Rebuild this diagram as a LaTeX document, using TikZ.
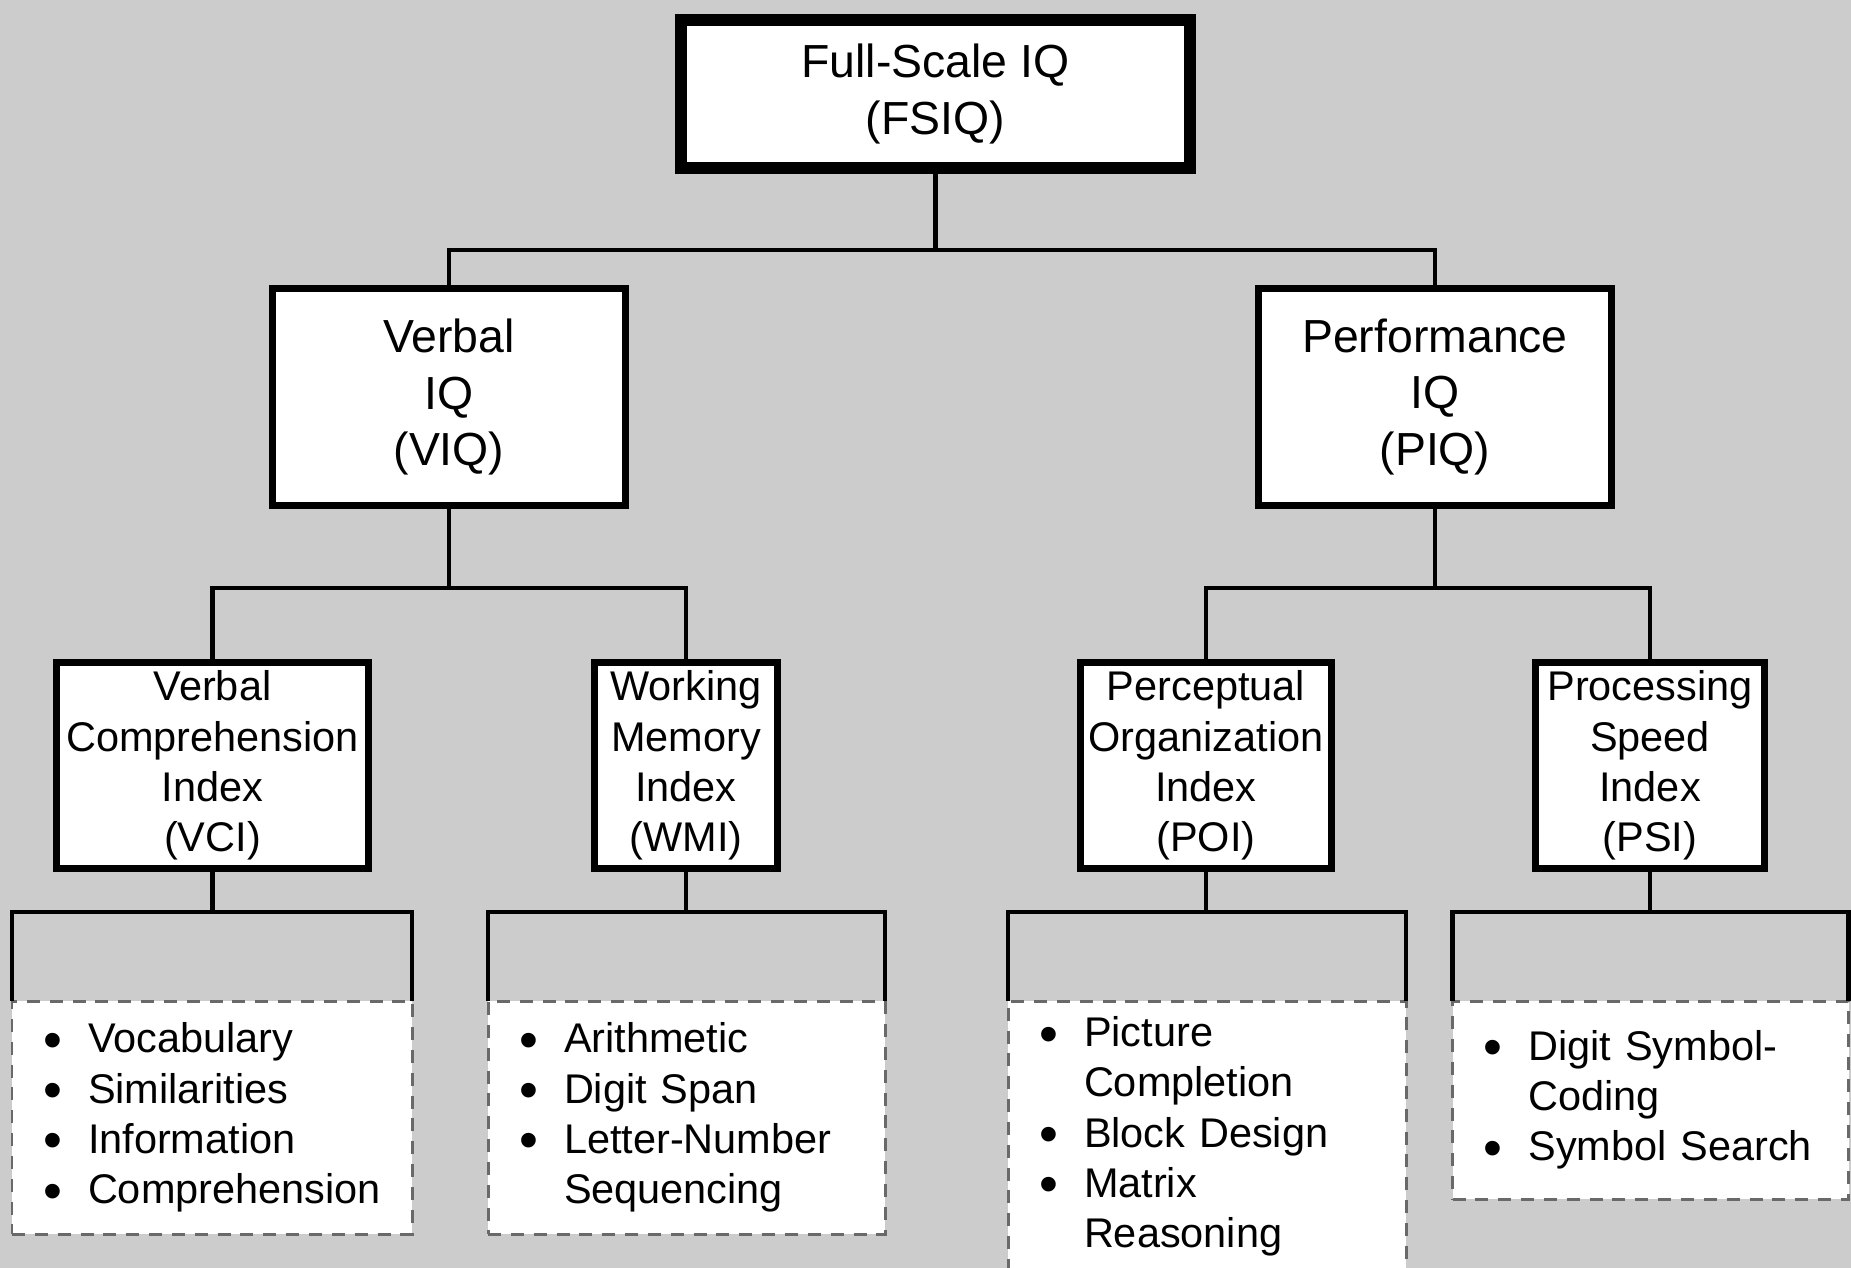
\documentclass[tikz,border=0pt]{standalone}
\usepackage{fontspec}
\usepackage{graphicx}
\setmainfont{Liberation Sans}
\definecolor{bggray}{RGB}{204,204,204}
\definecolor{dashgray}{RGB}{105,105,105}
\newcommand{\iqfont}{\fontsize{13.2}{16.1}\selectfont}
\newcommand{\idxfont}{\fontsize{11.8}{14.3}\selectfont}
\newcommand{\itm}{\makebox[0.45cm][l]{\raisebox{-0.25ex}{\scalebox{1.3}{\textbullet}}}}
\newcommand{\cnt}{\hspace*{0.45cm}}
\begin{document}
\begin{tikzpicture}[
		every node/.style={draw, rectangle, fill=white, inner sep=0pt, outer sep=0pt, align=center},
		iqbox/.style={line width=2pt, minimum width=3.53cm, minimum height=2.17cm, font=\iqfont},
		idxbox/.style={line width=2pt, minimum height=2.06cm, font=\idxfont},
		listbox/.style={draw=dashgray, dash pattern=on 3.7pt off 2.8pt, line width=0.85pt, align=left, font=\idxfont},
		link/.style={line width=1.25pt},
	]
	\fill[bggray] (0,0) rectangle (18.51,-12.68);
	\useasboundingbox (0,0) rectangle (18.51,-12.68);
	% top level
	\node[line width=3.4pt, minimum width=5.09cm, minimum height=1.48cm, font=\iqfont] (fsiq) at (9.355,-0.94) {Full-Scale IQ\\(FSIQ)};
	\node[iqbox] (viq) at (4.49,-3.97) {Verbal\\IQ\\(VIQ)};
	\node[iqbox] (piq) at (14.35,-3.97) {Performance\\IQ\\(PIQ)};
	% index scores
	\node[idxbox, minimum width=3.12cm] (vci) at (2.125,-7.655) {Verbal\\Comprehension\\Index\\(VCI)};
	\node[idxbox, minimum width=1.83cm] (wmi) at (6.86,-7.655) {Working\\Memory\\Index\\(WMI)};
	\node[idxbox, minimum width=2.51cm] (poi) at (12.06,-7.655) {Perceptual\\Organization\\Index\\(POI)};
	\node[idxbox, minimum width=2.29cm] (psi) at (16.50,-7.655) {Processing\\Speed\\Index\\(PSI)};
	% subtests
	\node[listbox, minimum width=4.00cm, text width=3.38cm, minimum height=2.33cm] (vcilist) at (2.12,-11.175)
		{\itm Vocabulary\\\itm Similarities\\\itm Information\\\itm Comprehension};
	\node[listbox, minimum width=3.97cm, text width=3.35cm, minimum height=2.33cm] (wmilist) at (6.865,-11.175)
		{\itm Arithmetic\\\itm Digit Span\\\itm Letter-Number\\\cnt Sequencing};
	\node[listbox, minimum width=3.98cm, text width=3.36cm, minimum height=2.71cm] (poilist) at (12.07,-11.365)
		{\itm Picture\\\cnt Completion\\\itm Block Design\\\itm Matrix\\\cnt Reasoning};
	\node[listbox, minimum width=3.96cm, text width=3.34cm, minimum height=1.98cm] (psilist) at (16.505,-11.00)
		{\itm Digit Symbol-\\\cnt Coding\\\itm Symbol Search};
	% connectors
	\coordinate (bus1) at (0,-2.50);
	\coordinate (bus2) at (0,-5.88);
	\coordinate (bus3) at (0,-9.12);
	\draw[link] (fsiq.south) -- (fsiq.south |- bus1);
	\draw[link] (viq.north) |- (fsiq.south |- bus1) -| (piq.north);
	\draw[link] (viq.south) -- (viq.south |- bus2);
	\draw[link] (vci.north) |- (viq.south |- bus2) -| (wmi.north);
	\draw[link] (piq.south) -- (piq.south |- bus2);
	\draw[link] (poi.north) |- (piq.south |- bus2) -| (psi.north);
	\draw[link] (vci.south) -- (vci.south |- bus3);
	\draw[link] (vcilist.north west) |- (vci.south |- bus3) -| (vcilist.north east);
	\draw[link] (wmi.south) -- (wmi.south |- bus3);
	\draw[link] (wmilist.north west) |- (wmi.south |- bus3) -| (wmilist.north east);
	\draw[link] (poi.south) -- (poi.south |- bus3);
	\draw[link] (poilist.north west) |- (poi.south |- bus3) -| (poilist.north east);
	\draw[link] (psi.south) -- (psi.south |- bus3);
	\draw[link] (psilist.north west) |- (psi.south |- bus3) -| (psilist.north east);
\end{tikzpicture}
\end{document}
